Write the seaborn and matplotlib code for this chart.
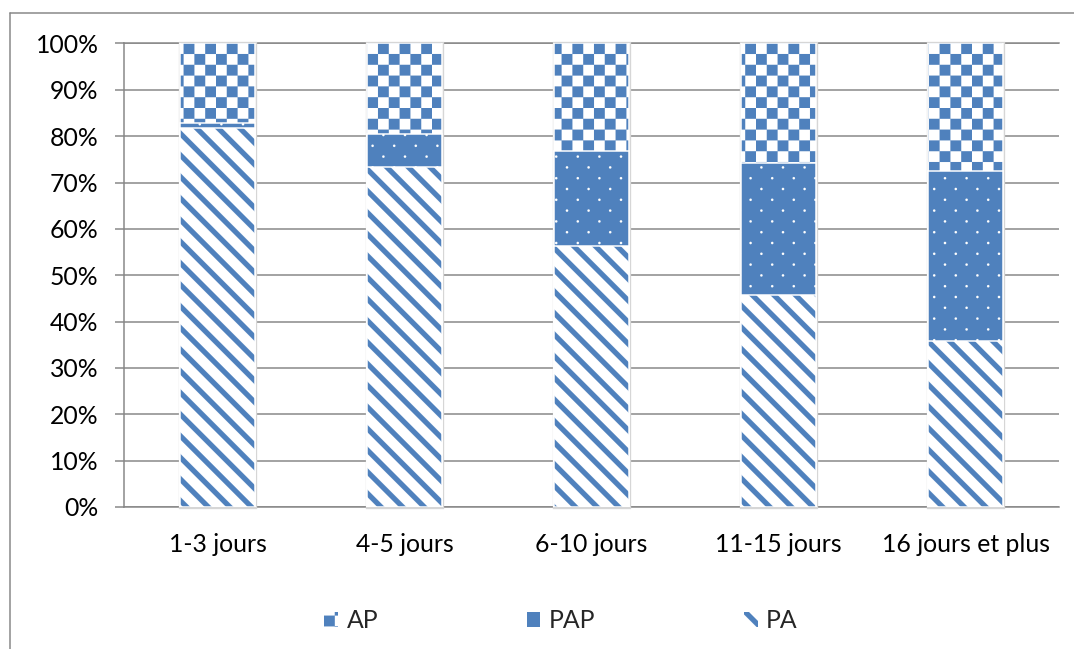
import numpy as np
import matplotlib
matplotlib.use("Agg")
import matplotlib.pyplot as plt
import matplotlib.hatch as mhatch
from matplotlib.path import Path
from matplotlib.patches import Patch, Rectangle
from matplotlib.lines import Line2D
from matplotlib.ticker import PercentFormatter, MultipleLocator
import pandas as pd
import seaborn as sns

# ---------------- data (percent of each duration class) ----------------
categories = ["1-3 jours", "4-5 jours", "6-10 jours", "11-15 jours", "16 jours et plus"]
pa_values = [81.7, 73.4, 56.3, 45.7, 35.8]
pap_values = [1.2, 7.0, 20.5, 28.6, 36.7]
ap_values = [17.1, 19.6, 23.2, 25.7, 27.5]
series_names = ["AP", "PAP", "PA"]

BLUE = "#4F81BD"
GRID = "#868686"

# ---------------- custom fill patterns (checker / dots / stripes) ----------------
class _PolyHatch(mhatch.HatchPatternBase):
    symbol = ""

    def __init__(self, hatch, density):
        self.polys = self.build() if self.symbol in hatch else []
        self.num_vertices = sum(len(p) + 1 for p in self.polys)

    def build(self):
        return []

    def set_vertices_and_codes(self, vertices, codes):
        i = 0
        for p in self.polys:
            n = len(p)
            vertices[i:i + n] = p
            vertices[i + n] = p[0]
            codes[i] = Path.MOVETO
            codes[i + 1:i + n] = Path.LINETO
            codes[i + n] = Path.CLOSEPOLY
            i += n + 1


class CheckerHatch(_PolyHatch):
    symbol = "O"

    def build(self):
        s = 0.1
        return [np.array([[i * s, j * s], [(i + 1) * s, j * s],
                          [(i + 1) * s, (j + 1) * s], [i * s, (j + 1) * s]])
                for i in range(10) for j in range(10) if (i + j) % 2 == 0]


class DotHatch(_PolyHatch):
    symbol = "."

    def build(self):
        t = np.linspace(0, 2 * np.pi, 9)[:-1]
        circ = np.column_stack([np.cos(t), np.sin(t)]) * 0.012
        out = []
        for j in range(10):
            for i in range(5):
                cx = 0.05 + i * 0.2 + (0.1 if j % 2 else 0.0)
                cy = 0.05 + j * 0.1
                out.append(circ + [cx, cy])
        return out


class StripeHatch(_PolyHatch):
    symbol = "\\"

    def build(self):
        n = 5
        w = 0.34 / n
        out = []
        for k in range(-1, 2 * n + 1):
            c = k / n
            out.append(np.array([[-0.5, c + 0.5], [1.5, c - 1.5],
                                 [1.5, c + w - 1.5], [-0.5, c + w + 0.5]]))
        return out


mhatch._hatch_types[:] = [CheckerHatch, DotHatch, StripeHatch]

# ---------------- style ----------------
sns.set_theme(style="white")
plt.rcParams["font.family"] = ["Lato", "DejaVu Sans"]
plt.rcParams["hatch.linewidth"] = 0.05
FS = 16.5

DPI = 108
fig = plt.figure(figsize=(1074 / DPI, 649 / DPI), dpi=DPI)
ax = fig.add_axes([124 / 1074, 1 - 507 / 649, (1059 - 124) / 1074, (507 - 43.5) / 649])

df = pd.DataFrame({"cat": categories, "PA": pa_values, "PAP": pap_values, "AP": ap_values})
df["top_PAP"] = df["PA"] + df["PAP"]
df["top_AP"] = df["top_PAP"] + df["AP"]

layers = [
    ("top_AP", "white", BLUE, "O"),
    ("top_PAP", BLUE, "white", "."),
    ("PA", "white", BLUE, "\\"),
]

for z, (col, face, hcol, hatch) in enumerate(layers):
    sns.barplot(data=df, x="cat", y=col, order=categories, color=face,
                saturation=1, width=0.4, errorbar=None, ax=ax)
    cont = ax.containers[-1]
    for p in cont.patches:
        p.set_facecolor(face)
        p.set_edgecolor(hcol)
        p.set_linewidth(0)
        p.set_hatch(hatch)
        p.set_zorder(3 + z)
        ax.add_patch(Rectangle(p.get_xy(), p.get_width(), p.get_height(),
                               fill=False, ec="white", lw=1.0, zorder=3.5 + z))
        if z == 0:
            ax.add_patch(Rectangle(p.get_xy(), p.get_width(), p.get_height(),
                                   fill=False, ec="#d6d6d6", lw=2.2, zorder=2.9,
                                   clip_on=False))

ax.set_xlim(-0.5, 4.5)
ax.set_ylim(0, 100)
ax.yaxis.set_major_locator(MultipleLocator(10))
ax.yaxis.set_major_formatter(PercentFormatter(decimals=0))
ax.grid(axis="y", color=GRID, lw=1.0)
ax.grid(axis="x", visible=False)
ax.set_axisbelow(True)
ax.spines["right"].set_visible(False)
for s in ["left", "bottom", "top"]:
    ax.spines[s].set_visible(True)
    ax.spines[s].set_color(GRID)
    ax.spines[s].set_linewidth(1.0)
ax.tick_params(axis="y", left=True, length=6, width=1.0, color=GRID, pad=11,
               labelsize=FS, labelcolor="black")
ax.tick_params(axis="x", bottom=False, length=0, pad=17, labelsize=FS, labelcolor="black")
ax.set_xlabel("")
ax.set_ylabel("")

# outer frame (top and left edges of the chart area)
fx = 9.5 / 1074
fy = 1 - 12.5 / 649
fig.add_artist(Line2D([fx, 1], [fy, fy], transform=fig.transFigure, color=GRID, lw=1.0))
fig.add_artist(Line2D([fx, fx], [0, fy], transform=fig.transFigure, color=GRID, lw=1.0))

handles = [
    Patch(facecolor="white", edgecolor=BLUE, lw=0, hatch="O"),
    Patch(facecolor=BLUE, edgecolor="white", lw=0, hatch="."),
    Patch(facecolor="white", edgecolor=BLUE, lw=0, hatch="\\"),
]
fig.legend(handles, series_names, loc="center", bbox_to_anchor=(561 / 1074, 1 - 621 / 649),
           ncol=3, frameon=False, handlelength=0.55, handleheight=0.55,
           handletextpad=0.35, columnspacing=6.0, fontsize=FS)

fig.savefig("out.png", dpi=DPI, facecolor="white")
